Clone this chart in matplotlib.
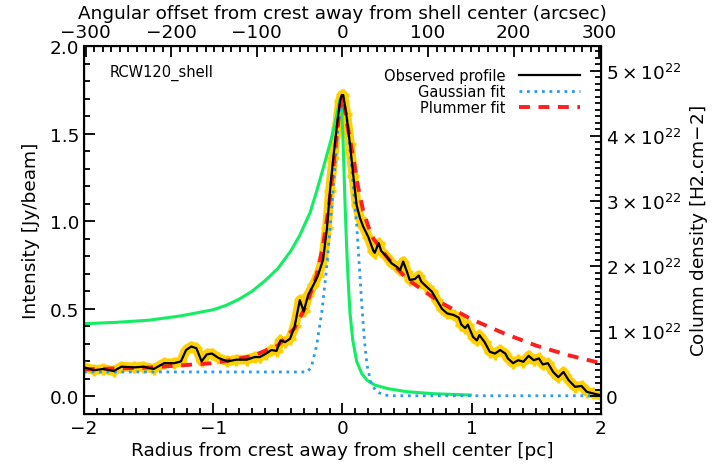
import numpy as np
import matplotlib
matplotlib.use('Agg')
import matplotlib.pyplot as plt
from matplotlib.ticker import MultipleLocator, FuncFormatter

# observed profile (pc, Jy/beam)
obs_x = [-2.00, -1.92, -1.85, -1.77, -1.71, -1.61, -1.54, -1.46, -1.38, -1.30,
         -1.25, -1.21, -1.17, -1.13, -1.09, -1.05, -1.01, -0.96, -0.89, -0.82,
         -0.74, -0.68, -0.64, -0.59, -0.55, -0.51, -0.48, -0.445, -0.405, -0.37,
         -0.33, -0.30, -0.265, -0.225, -0.19, -0.15, -0.12, -0.097, -0.071, -0.045,
         -0.019, -0.006, 0.006, 0.03, 0.058, 0.084, 0.11, 0.135, 0.16, 0.20,
         0.24, 0.25, 0.28, 0.30, 0.34, 0.38, 0.42, 0.445, 0.47, 0.50,
         0.52, 0.56, 0.59, 0.61, 0.65, 0.69, 0.73, 0.77, 0.81, 0.86,
         0.90, 0.92, 0.95, 0.97, 1.01, 1.04, 1.06, 1.10, 1.14, 1.18,
         1.22, 1.26, 1.28, 1.32, 1.36, 1.40, 1.44, 1.48, 1.52, 1.55,
         1.59, 1.63, 1.67, 1.71, 1.75, 1.80, 1.85, 1.89, 1.94, 2.00]
obs_y = [0.166, 0.150, 0.157, 0.145, 0.170, 0.166, 0.170, 0.157, 0.190, 0.190,
         0.200, 0.265, 0.285, 0.275, 0.200, 0.240, 0.245, 0.220, 0.200, 0.210,
         0.210, 0.225, 0.225, 0.245, 0.265, 0.260, 0.320, 0.310, 0.330, 0.400,
         0.550, 0.485, 0.580, 0.636, 0.690, 0.780, 0.960, 1.170, 1.360, 1.530,
         1.685, 1.720, 1.720, 1.610, 1.440, 1.260, 1.090, 1.020, 0.970, 0.910,
         0.830, 0.820, 0.875, 0.830, 0.800, 0.760, 0.740, 0.720, 0.770, 0.710,
         0.665, 0.670, 0.690, 0.655, 0.627, 0.600, 0.550, 0.500, 0.474, 0.465,
         0.450, 0.410, 0.390, 0.410, 0.340, 0.320, 0.350, 0.310, 0.255, 0.245,
         0.265, 0.245, 0.217, 0.190, 0.207, 0.198, 0.232, 0.207, 0.217, 0.183,
         0.190, 0.140, 0.110, 0.140, 0.093, 0.055, 0.060, 0.027, 0.017, 0.007]

# gaussian fit
gau_x = [-2.0, -0.27, -0.24, -0.2, -0.16, -0.12, -0.085, -0.045, -0.02, 0.0,
         0.03, 0.06, 0.09, 0.11, 0.13, 0.15, 0.17, 0.19, 0.22, 0.26, 0.32, 0.4, 2.0]
gau_y = [0.14, 0.14, 0.17, 0.29, 0.48, 0.75, 1.06, 1.44, 1.64, 1.71,
         1.62, 1.40, 1.15, 0.98, 0.75, 0.52, 0.32, 0.18, 0.08, 0.03, 0.008, 0.004, 0.004]

# plummer fit
plu_x = [-2.0, -1.5, -1.0, -0.7, -0.5, -0.37, -0.28, -0.2, -0.15, -0.097,
         -0.045, -0.02, 0.0, 0.02, 0.04, 0.084, 0.12, 0.16, 0.2, 0.24,
         0.35, 0.5, 0.75, 1.0, 1.25, 1.5, 1.75, 2.0]
plu_y = [0.155, 0.165, 0.19, 0.23, 0.29, 0.39, 0.52, 0.69, 0.86, 1.13,
         1.49, 1.65, 1.71, 1.63, 1.54, 1.36, 1.20, 1.06, 0.97, 0.90,
         0.79, 0.67, 0.54, 0.44, 0.36, 0.29, 0.235, 0.19]

# green curve
grn_x = [-2.0, -1.75, -1.5, -1.25, -1.0, -0.9, -0.8, -0.7, -0.6, -0.5,
         -0.4, -0.33, -0.25, -0.2, -0.15, -0.12, -0.09, -0.06, -0.04, -0.02,
         -0.01, 0.005, 0.02, 0.032, 0.045, 0.058, 0.08, 0.11, 0.15, 0.19,
         0.25, 0.35, 0.5, 0.7, 0.99]
grn_y = [0.415, 0.423, 0.435, 0.46, 0.495, 0.52, 0.555, 0.60, 0.66, 0.73,
         0.83, 0.92, 1.05, 1.17, 1.30, 1.38, 1.46, 1.55, 1.62, 1.69,
         1.71, 1.45, 1.10, 0.86, 0.65, 0.48, 0.32, 0.20, 0.13, 0.093,
         0.065, 0.045, 0.027, 0.016, 0.008]

col_dens = 2.69e22      # column density per Jy/beam
arcsec_pc = 151.0       # arcsec per pc

fs = 13.3
fig = plt.figure(figsize=(7.24, 4.77), dpi=100)
ax = fig.add_axes([0.116, 0.130, 0.714, 0.7715])

ax.plot(obs_x, obs_y, color='#FFD000', lw=7, solid_joinstyle='round',
        marker='+', ms=9, mew=2.5, zorder=2)
ax.plot(grn_x, grn_y, color='#12EE62', lw=2.2, zorder=3)
l_gau, = ax.plot(gau_x, gau_y, color='#2A9BF0', lw=2, ls=(0, (1, 1.7)), zorder=3)
l_plu, = ax.plot(plu_x, plu_y, color='#FF1E1E', lw=2.8, ls=(0, (2.8, 2.2)), zorder=4)
l_obs, = ax.plot(obs_x, obs_y, color='black', lw=1.6, zorder=5)

ax.set_xlim(-2, 2)
ax.set_ylim(-0.1, 2.0)
ax.xaxis.set_major_locator(MultipleLocator(1))
ax.xaxis.set_minor_locator(MultipleLocator(0.1))
ax.yaxis.set_major_locator(MultipleLocator(0.5))
ax.yaxis.set_minor_locator(MultipleLocator(0.1))
ax.yaxis.set_major_formatter(FuncFormatter(lambda v, p: '%.1f' % v))
ax.tick_params(which='both', direction='in', top=False, right=False,
               labelsize=fs, width=1.3)
ax.tick_params(which='major', length=8)
ax.tick_params(which='minor', length=4)
ax.set_xlabel('Radius from crest away from shell center [pc]', fontsize=fs, labelpad=3)
ax.set_ylabel('Intensity [Jy/beam]', fontsize=fs, labelpad=7)
for s in ax.spines.values():
    s.set_linewidth(1.5)

ax.text(0.05, 0.93, 'RCW120_shell', transform=ax.transAxes, fontsize=10.5,
        va='center', ha='left')

ax.legend(handles=[l_obs, l_gau, l_plu],
          labels=['Observed profile', 'Gaussian fit', 'Plummer fit'],
          loc='upper right', bbox_to_anchor=(0.985, 0.975), frameon=False,
          markerfirst=False, fontsize=10.5, handlelength=4.2,
          labelspacing=0.05, handletextpad=0.9)

# right axis: column density
ax2 = ax.twinx()
ax2.set_ylim(-0.1 * col_dens, 2.0 * col_dens)
ax2.yaxis.set_major_locator(MultipleLocator(1e22))
ax2.yaxis.set_minor_locator(MultipleLocator(0.1e22))


def cd_fmt(v, p):
    n = int(round(v / 1e22))
    if n == 0:
        return '0'
    return r'$%d\times10^{22}$' % n


ax2.yaxis.set_major_formatter(FuncFormatter(cd_fmt))
ax2.tick_params(which='both', direction='in', labelsize=fs, width=1.3)
ax2.tick_params(which='major', length=8)
ax2.tick_params(which='minor', length=4)
ax2.set_ylabel('Column density [H2.cm$-$2]', fontsize=fs, labelpad=5)

# top axis: arcsec
ax3 = ax.twiny()
ax3.set_xlim(-2 * arcsec_pc, 2 * arcsec_pc)
ax3.xaxis.set_major_locator(MultipleLocator(100))
ax3.xaxis.set_minor_locator(MultipleLocator(10))
ax3.tick_params(which='both', direction='in', labelsize=fs, width=1.3)
ax3.tick_params(which='major', length=8)
ax3.tick_params(which='minor', length=4)
ax3.set_xlabel('Angular offset from crest away from shell center (arcsec)',
               fontsize=fs, labelpad=4)

fig.savefig('out.png', dpi=100)
